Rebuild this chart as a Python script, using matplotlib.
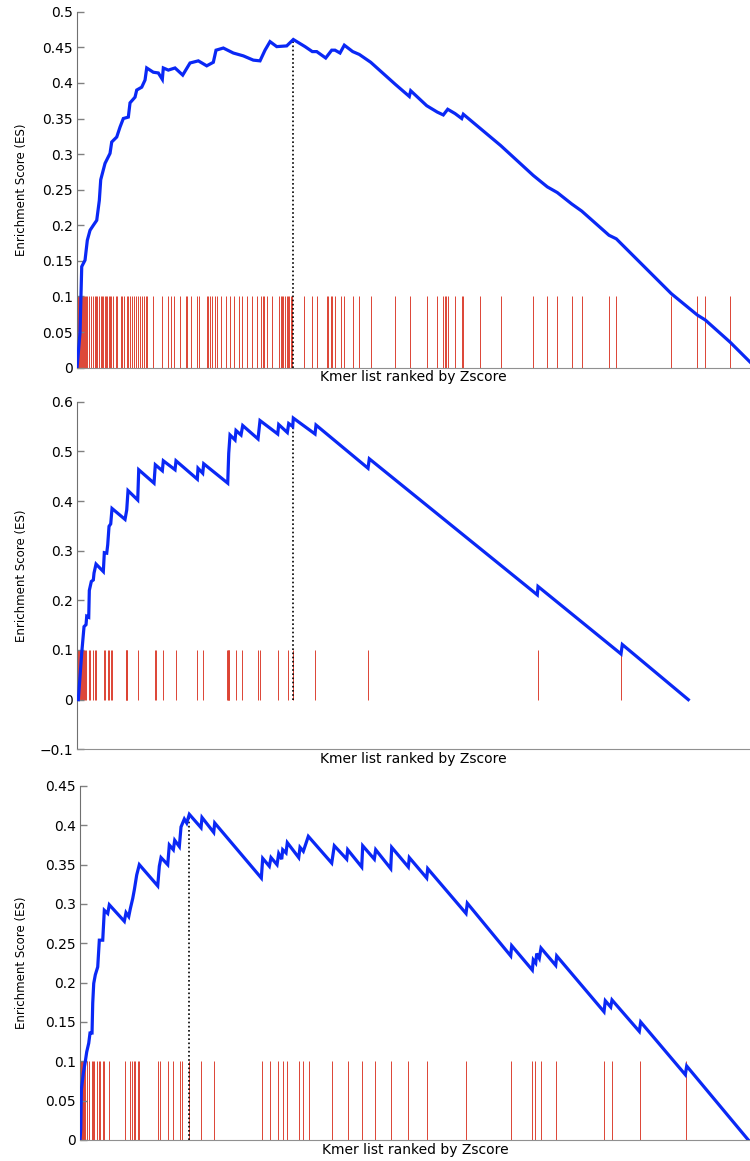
import numpy as np
import matplotlib
matplotlib.use("Agg")
import matplotlib.pyplot as plt
from matplotlib.ticker import FuncFormatter

# --- panel 1 ---
es1_x = [0, 3, 4.7, 8, 10.3, 13, 16.3, 19.7, 22.3, 23.7, 28, 33, 34.7, 39.7, 43, 46.3, 51.3, 53, 58, 59.7,
         64.7, 68, 69.7, 76.3, 81.3, 85.3, 86.3, 91.3, 98, 105.7, 113, 121.3, 129.7, 136.3, 139, 146.3, 156.3,
         166.3, 176.3, 183, 188, 193, 199.7, 209.7, 216.3, 228, 235.3, 239.7, 248.7, 254.7, 258, 263, 267.3,
         275.7, 282.3, 293.7, 318.3, 332.3, 333.7, 349.7, 360.3, 366.3, 370.7, 378, 384.7, 386.3, 403.3, 423.7,
         456.3, 470.3, 480.3, 494.7, 504.7, 532, 539.3, 594.3, 620.3, 628.3, 653, 673]
es1_y = [0, 0.049, 0.142, 0.151, 0.179, 0.193, 0.2, 0.207, 0.235, 0.264, 0.287, 0.301, 0.317, 0.324, 0.338,
         0.35, 0.352, 0.372, 0.38, 0.39, 0.394, 0.404, 0.421, 0.415, 0.414, 0.405, 0.421, 0.418, 0.421, 0.411,
         0.428, 0.431, 0.424, 0.429, 0.446, 0.449, 0.442, 0.438, 0.432, 0.431, 0.446, 0.458, 0.451, 0.452,
         0.461, 0.451, 0.444, 0.444, 0.435, 0.446, 0.446, 0.442, 0.453, 0.444, 0.440, 0.429, 0.398, 0.381,
         0.389, 0.368, 0.359, 0.355, 0.363, 0.357, 0.350, 0.356, 0.336, 0.312, 0.270, 0.254, 0.246, 0.230,
         0.220, 0.186, 0.181, 0.104, 0.074, 0.067, 0.036, 0.008]
hits1 = [0.5, 1, 1.5, 2, 3, 4, 5, 6, 7, 8, 9, 10, 12, 14, 16, 18, 19, 20, 22, 24, 25, 26, 28, 29, 30, 32, 33,
         34, 36, 39, 40, 44, 45, 47, 50, 51, 53, 55, 57, 59, 61, 63, 65, 67, 69, 70, 76, 85, 91, 94, 97, 103,
         109, 110, 114, 120, 122, 130, 131, 133, 135, 138, 140, 144, 149, 153, 157, 162, 165, 170, 175, 180,
         184, 186, 187, 190, 195, 202, 204, 205, 206, 208, 210, 211, 212, 214, 215, 227, 235, 240, 250, 251,
         254, 255, 258, 264, 267, 276, 282, 294, 318, 333, 350, 360, 366, 368, 369, 371, 378, 385, 386, 403,
         424, 456, 470, 480, 495, 505, 532, 539, 594, 620, 628, 653]
peak1 = (216.3, 0.461)

# --- panel 2 ---
es2_x = [1.3, 4.7, 6.3, 7, 9, 9.7, 11.7, 12.3, 14.3, 16.3, 17, 19, 26.3, 27.3, 29.7, 30.7, 32, 33.7, 35, 48,
         49.7, 51, 60.7, 61.7, 77, 78.3, 85.3, 86.3, 98, 99, 120.3, 121, 125.7, 126.7, 150.7, 151.7, 153, 158,
         159, 164, 165.7, 181, 183, 200.7, 201.7, 210.3, 211.7, 215.7, 216.3, 238, 239, 291, 292.3, 460.3, 461,
         544, 545.3, 611.3]
es2_y = [0, 0.094, 0.131, 0.147, 0.151, 0.168, 0.166, 0.220, 0.238, 0.241, 0.255, 0.273, 0.258, 0.296, 0.295,
         0.312, 0.349, 0.354, 0.385, 0.363, 0.382, 0.421, 0.402, 0.463, 0.436, 0.473, 0.461, 0.481, 0.463,
         0.481, 0.444, 0.466, 0.456, 0.475, 0.436, 0.496, 0.533, 0.523, 0.542, 0.533, 0.552, 0.525, 0.562,
         0.535, 0.554, 0.538, 0.556, 0.550, 0.567, 0.535, 0.553, 0.466, 0.485, 0.211, 0.228, 0.092, 0.111, 0.0]
hits2 = [1, 2, 3, 4, 5, 6, 7, 8, 9, 12, 13, 16, 17.7, 18.7, 27, 27.7, 31, 32, 33.7, 35.3, 48.7, 49.2, 49.7,
         50.3, 61, 77.7, 79, 86, 98.7, 120.3, 126.3, 150.3, 150.8, 151.3, 151.8, 152.3, 159, 165.3, 181.3,
         183, 200.7, 210.7, 216, 238, 291, 460.7, 544.3]
peak2 = (216.3, 0.567)

# --- panel 3 ---
es3_x = [0, 0.7, 1.3, 3.3, 5.3, 6.7, 8.7, 10, 12, 12.7, 13.7, 15.3, 17.7, 19.3, 22.7, 24.3, 27.7, 29.3, 44.3,
         46, 48.7, 50.3, 52.7, 54.3, 56.7, 59.3, 77.7, 79.3, 81, 87.7, 89.3, 93.3, 94.7, 99.3, 101, 104.3,
         106.7, 109.3, 121, 122, 133.7, 134.7, 181.3, 182.7, 189.3, 191, 197, 198.7, 201.7, 202.7, 206, 207.3,
         218.7, 220, 223.3, 228.3, 251.7, 254.3, 266.7, 267.7, 281.7, 282.7, 294.3, 295.7, 310.7, 311.7,
         328.3, 329.3, 346.7, 347.7, 386, 387.3, 430.7, 431.7, 452.3, 453.3, 455.7, 456.7, 459.3, 461, 475.7,
         476.7, 524, 525.3, 530.7, 532, 559.3, 560.7, 605.3, 606.7, 668.3]
es3_y = [0, 0.013, 0.064, 0.085, 0.1, 0.112, 0.123, 0.136, 0.136, 0.174, 0.199, 0.210, 0.220, 0.254, 0.254,
         0.292, 0.288, 0.299, 0.278, 0.289, 0.284, 0.294, 0.307, 0.318, 0.337, 0.350, 0.323, 0.348, 0.359,
         0.350, 0.375, 0.369, 0.381, 0.373, 0.398, 0.408, 0.403, 0.414, 0.397, 0.410, 0.391, 0.403, 0.333,
         0.358, 0.348, 0.359, 0.350, 0.364, 0.357, 0.369, 0.365, 0.378, 0.359, 0.372, 0.367, 0.386, 0.352,
         0.374, 0.357, 0.369, 0.347, 0.374, 0.357, 0.369, 0.345, 0.372, 0.347, 0.359, 0.333, 0.345, 0.288,
         0.301, 0.234, 0.247, 0.216, 0.229, 0.225, 0.237, 0.231, 0.244, 0.222, 0.234, 0.163, 0.177, 0.169,
         0.178, 0.138, 0.150, 0.083, 0.094, 0.0]
hits3 = [0.5, 1, 1.5, 2, 2.5, 3, 3.5, 4, 5.3, 7, 9.3, 12, 13.3, 14.3, 16.7, 18.7, 20, 22.7, 24.3, 29.3, 45, 50,
         52, 53.7, 55.3, 57.7, 59.3, 78.3, 80, 87.7, 93.3, 100, 102, 108.7, 120.7, 134.3, 181.7, 190.3, 197.7,
         202.7, 206.7, 219.3, 223.3, 228.7, 251.7, 267.7, 282.3, 295, 310.7, 328.3, 346.7, 386, 431, 452.3,
         455, 460.7, 476, 524.3, 532.3, 559.7, 606]
peak3 = (109.3, 0.414)

panels = [
    dict(x=es1_x, y=es1_y, hits=hits1, peak=peak1, xlim=(0, 673), ylim=(0, 0.5),
         ticks=np.arange(0, 0.501, 0.05), rect=[0.1027, 0.6833, 0.8973, 0.3066], ylab_x=-0.073),
    dict(x=es2_x, y=es2_y, hits=hits2, peak=peak2, xlim=(0, 673), ylim=(-0.1, 0.6),
         ticks=np.arange(-0.1, 0.601, 0.1), rect=[0.1027, 0.3546, 0.8973, 0.2994], ylab_x=-0.073),
    dict(x=es3_x, y=es3_y, hits=hits3, peak=peak3, xlim=(0, 670), ylim=(0, 0.45),
         ticks=np.arange(0, 0.451, 0.05), rect=[0.1067, 0.0181, 0.8933, 0.3049], ylab_x=-0.078),
]


def fmt(v, pos):
    return ("%g" % round(v, 2)).replace("-", "\u2212")


fig = plt.figure(figsize=(7.5, 11.61), dpi=100)

for p in panels:
    ax = fig.add_axes(p["rect"])
    ax.vlines(p["hits"], 0, 0.1, color="#dc4434", linewidth=0.7, zorder=1)
    ax.plot(p["x"], p["y"], color="#0a28f5", linewidth=2.3, zorder=3, solid_joinstyle="miter")
    ax.plot([p["peak"][0], p["peak"][0]], [0, p["peak"][1]], color="black",
            linestyle=(0, (1, 1.5)), linewidth=1.2, zorder=2)
    ax.set_xlim(*p["xlim"])
    ax.set_ylim(*p["ylim"])
    ax.set_yticks(p["ticks"])
    ax.yaxis.set_major_formatter(FuncFormatter(fmt))
    ax.set_xticks([])
    for s in ["top", "right"]:
        ax.spines[s].set_visible(False)
    ax.spines["left"].set_color("#707070")
    ax.spines["bottom"].set_color("#909090")
    ax.tick_params(axis="y", direction="in", length=5, width=1, color="#808080",
                   labelsize=10, pad=3)
    ax.set_xlabel("Kmer list ranked by Zscore", fontsize=10, labelpad=2)
    ax.set_ylabel("Enrichment Score (ES)", fontsize=8.5)
    ax.yaxis.set_label_coords(p["ylab_x"], 0.5)

plt.savefig("out.png", dpi=100)
